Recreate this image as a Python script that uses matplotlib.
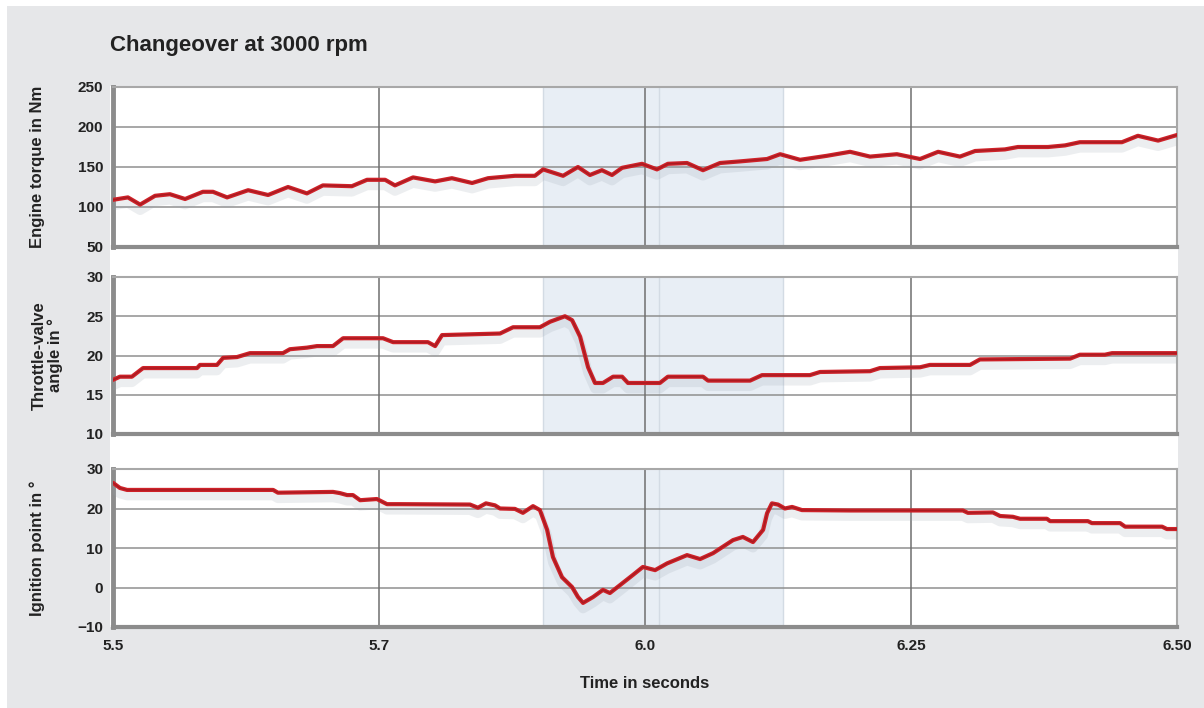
import numpy as np
import matplotlib
matplotlib.use("Agg")
import matplotlib.pyplot as plt
import matplotlib.patheffects as pe
from matplotlib.patches import Rectangle

plt.rcParams['font.family'] = ['Liberation Sans', 'DejaVu Sans']

# time axis: positions are in tick units (ticks are evenly spaced in the chart)
tick_pos = [0, 1, 2, 3, 4]
tick_labels = ["5.5", "5.7", "6.0", "6.25", "6.50"]

# changeover window (shaded)
window = (1.617, 2.519)
window_mid = 2.053

# engine torque in Nm
torque_t = [0.000, 0.056, 0.102, 0.158, 0.214, 0.271, 0.338, 0.376, 0.429, 0.508,
            0.583, 0.658, 0.729, 0.789, 0.898, 0.955, 1.023, 1.060, 1.128, 1.211,
            1.274, 1.350, 1.410, 1.511, 1.586, 1.617, 1.692, 1.748, 1.793, 1.838,
            1.876, 1.914, 1.989, 2.045, 2.086, 2.158, 2.218, 2.282, 2.357, 2.459,
            2.508, 2.583, 2.684, 2.771, 2.846, 2.947, 3.034, 3.102, 3.184, 3.241,
            3.353, 3.402, 3.515, 3.579, 3.635, 3.793, 3.853, 3.929, 4.000]
torque = [109, 112, 103, 114, 116, 110, 119, 119, 112, 121,
          115, 125, 117, 127, 126, 134, 134, 127, 137, 132,
          136, 130, 136, 139, 139, 147, 139, 150, 140, 146,
          140, 149, 154, 147, 154, 155, 146, 155, 157, 160,
          166, 159, 164, 169, 163, 166, 160, 169, 163, 170,
          172, 175, 175, 177, 181, 181, 189, 183, 190]

# throttle-valve angle in degrees
throttle_t = [0.000, 0.026, 0.071, 0.113, 0.316, 0.327, 0.391, 0.414, 0.466, 0.515,
              0.639, 0.665, 0.729, 0.767, 0.827, 0.865, 1.015, 1.053, 1.184, 1.211,
              1.237, 1.455, 1.504, 1.605, 1.643, 1.699, 1.726, 1.756, 1.786, 1.812,
              1.842, 1.880, 1.914, 1.936, 2.056, 2.086, 2.218, 2.237, 2.395, 2.440,
              2.620, 2.658, 2.846, 2.883, 3.034, 3.071, 3.222, 3.259, 3.598, 3.635,
              3.729, 3.756, 4.000]
throttle = [16.9, 17.3, 17.3, 18.4, 18.4, 18.8, 18.8, 19.7, 19.8, 20.3,
            20.3, 20.8, 21.0, 21.2, 21.2, 22.2, 22.2, 21.7, 21.7, 21.2,
            22.6, 22.8, 23.6, 23.6, 24.3, 25.0, 24.5, 22.4, 18.5, 16.5,
            16.5, 17.3, 17.3, 16.5, 16.5, 17.3, 17.3, 16.8, 16.8, 17.5,
            17.5, 17.9, 18.0, 18.4, 18.5, 18.8, 18.8, 19.5, 19.6, 20.1,
            20.1, 20.3, 20.3]

# ignition point in degrees
ignition_t = [0.000, 0.026, 0.053, 0.602, 0.620, 0.827, 0.853, 0.880, 0.902, 0.929,
              0.992, 1.030, 1.079, 1.342, 1.372, 1.402, 1.436, 1.455, 1.511, 1.541,
              1.579, 1.605, 1.632, 1.654, 1.688, 1.726, 1.748, 1.767, 1.805, 1.842,
              1.868, 1.906, 1.955, 1.992, 2.038, 2.083, 2.158, 2.207, 2.256, 2.331,
              2.368, 2.406, 2.444, 2.459, 2.477, 2.500, 2.526, 2.553, 2.590, 2.771,
              3.195, 3.214, 3.308, 3.335, 3.383, 3.410, 3.511, 3.523, 3.665, 3.680,
              3.786, 3.805, 3.944, 3.962, 4.000]
ignition = [26.5, 25.2, 24.7, 24.7, 24.0, 24.2, 23.9, 23.4, 23.4, 22.1,
            22.4, 21.1, 21.1, 21.0, 20.2, 21.3, 20.8, 20.0, 19.9, 18.9,
            20.6, 19.6, 14.6, 7.7, 2.6, 0.1, -2.4, -3.9, -2.4, -0.6,
            -1.4, 0.6, 3.2, 5.2, 4.4, 6.1, 8.2, 7.2, 8.7, 12.0,
            12.8, 11.5, 14.6, 18.8, 21.3, 21.0, 20.0, 20.4, 19.6, 19.5,
            19.5, 18.9, 19.0, 18.1, 17.9, 17.4, 17.4, 16.8, 16.8, 16.3,
            16.3, 15.4, 15.4, 14.8, 14.8]

W, H = 1204, 708
fig = plt.figure(figsize=(W / 100, H / 100), dpi=100, facecolor='white')

# gray card and white plot column
fig.patches.append(Rectangle((7 / W, 0), 1 - 7 / W, 1 - 6 / H, transform=fig.transFigure,
                             facecolor='#e6e7e9', edgecolor='none', zorder=-10))
fig.patches.append(Rectangle((110 / W, 1 - 627 / H), (1178 - 110) / W, (627 - 86) / H,
                             transform=fig.transFigure, facecolor='white',
                             edgecolor='none', zorder=-9))


def px_axes(top, bottom):
    return fig.add_axes([113 / W, 1 - bottom / H, (1177 - 113) / W, (bottom - top) / H])


# top px, bottom px, data, y range, y ticks, label, label right edge (px from axes)
panels = [
    (87, 247, torque_t, torque, (50, 250), [50, 100, 150, 200, 250], "Engine torque in Nm", 68),
    (277, 434, throttle_t, throttle, (10, 30), [10, 15, 20, 25, 30], "Throttle-valve\nangle in °", 50),
    (469, 627, ignition_t, ignition, (-10, 30), [-10, 0, 10, 20, 30], "Ignition point in °", 68),
]

red = '#cf2229'
ink = '#222222'
for i, (top, bottom, tx, vals, ylim, yt, ylab, lab_off) in enumerate(panels):
    ax = px_axes(top, bottom)
    ax.set_facecolor('white')
    ax.set_xlim(0, 4)
    ax.set_ylim(*ylim)
    ax.axvspan(window[0], window[1], color='#e8eef5', zorder=0, lw=0)
    for xv in (window[0], window_mid, window[1]):
        ax.axvline(xv, color='#d3dbe4', lw=1.0, zorder=0.5)
    for yv in yt[1:-1]:
        ax.axhline(yv, color='#8f8f8f', lw=1.1, zorder=1)
    for xv in tick_pos[1:-1]:
        ax.axvline(xv, color='#6f6f6f', lw=1.1, zorder=1)

    ax.plot(tx, vals, color=red, lw=3.0, zorder=3, solid_joinstyle='round',
            solid_capstyle='round',
            path_effects=[pe.SimpleLineShadow(offset=(0, -4), shadow_color='#9aa3ad', alpha=0.18,
                                              linewidth=7),
                          pe.Normal()])
    ax.plot(tx, vals, color='#8c161c', lw=1.1, alpha=0.55, zorder=4, solid_joinstyle='round')

    ax.set_yticks(yt)
    ax.set_yticklabels(["\u2212" + str(abs(v)) if v < 0 else str(v) for v in yt],
                       fontsize=11, fontweight='bold', color=ink)
    ax.set_xticks(tick_pos)
    if i == 2:
        ax.set_xticklabels(tick_labels, fontsize=11, fontweight='bold', color=ink)
        ax.set_xlabel("Time in seconds", fontsize=12, fontweight='bold', color=ink,
                      labelpad=16)
    else:
        ax.set_xticklabels([])
    ax.tick_params(length=0, pad=7)
    ax.tick_params(axis='x', pad=9)

    for side in ('top', 'right'):
        ax.spines[side].set_color('#a8a8a8')
        ax.spines[side].set_linewidth(1.5)
    ax.spines['left'].set_color('#8c8c8c')
    ax.spines['left'].set_linewidth(3.5)
    ax.spines['bottom'].set_color('#8c8c8c')
    ax.spines['bottom'].set_linewidth(3)

    ax.set_ylabel(ylab, fontsize=12, fontweight='bold', color=ink, linespacing=1.05)
    ax.yaxis.set_label_coords(-lab_off / (1177 - 113), 0.5)

fig.text(110 / W, 1 - 46 / H, "Changeover at 3000 rpm", fontsize=16, fontweight='bold',
         color=ink, va='center', ha='left')

fig.savefig("out.png", dpi=100, facecolor=fig.get_facecolor())
